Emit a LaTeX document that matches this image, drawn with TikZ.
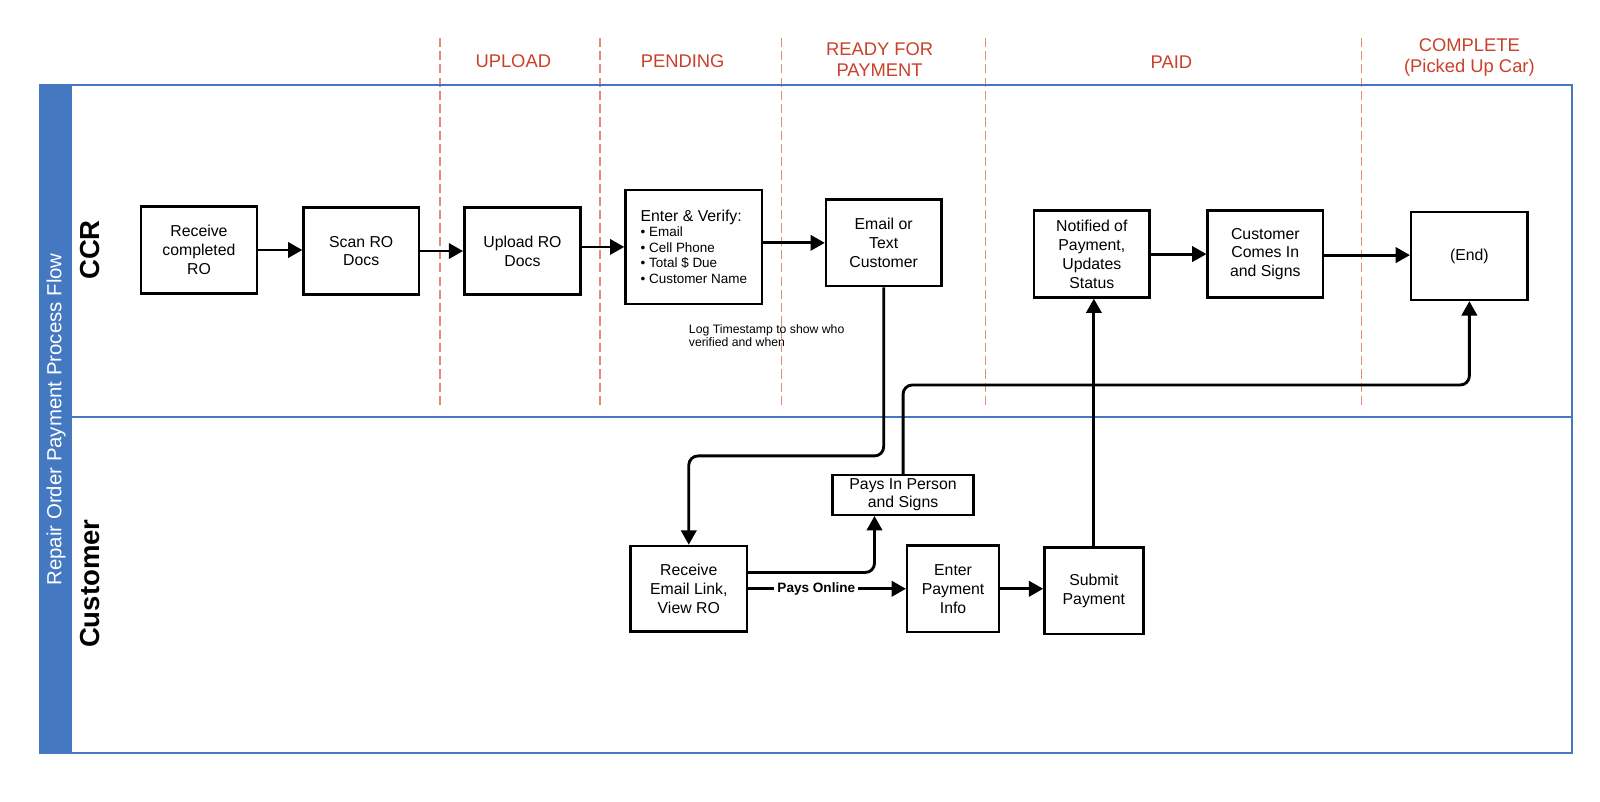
\documentclass[tikz,border=0pt]{standalone}
\usepackage{fontspec}
\setmainfont{Liberation Sans}
\usetikzlibrary{arrows.meta,calc}
\definecolor{laneblue}{HTML}{4479C2}
\definecolor{hdrred}{HTML}{C8412A}
\definecolor{dashred}{HTML}{E58A78}
\begin{document}
\begin{tikzpicture}[x=1pt,y=-1pt,
  box/.style={draw=black,line width=2.4pt,inner sep=0pt,align=center,
    font=\fontsize{15.5}{18.5}\selectfont,fill=white},
  conn/.style={line width=2.8pt,-{Triangle[length=14pt,width=15pt]}},
  plain/.style={line width=2.8pt},
  hdr/.style={text=hdrred,align=center,font=\fontsize{18}{20.5}\selectfont},
  phase/.style={dashred,line width=1.4pt,dash pattern=on 9pt off 4pt},
  lanelbl/.style={rotate=90,font=\fontsize{27}{30}\selectfont\bfseries}
]
\useasboundingbox (0,0) rectangle (1568,785);
\fill[white] (0,0) rectangle (1568,785);

% phase separators
\foreach \xx in {431,588,766,966,1334}
  \draw[phase] (\xx,37) -- (\xx,401);

% headers
\node[hdr] (hupload) at (503,60) {UPLOAD};
\node[hdr] (hpending) at (669,60) {PENDING};
\node[hdr] (hready) at (862,58) {READY FOR\\PAYMENT};
\node[hdr] (hpaid) at (1148,61) {PAID};
\node[hdr] (hcomplete) at (1440,56) {COMPLETE\\(Picked Up Car)};

% pool frame
\fill[laneblue] (39,83) rectangle (71,738);
\draw[laneblue,line width=2pt] (39,83) rectangle (1541,738);
\draw[laneblue,line width=2pt] (71,409) -- (1541,409);
\node[rotate=90,text=white,font=\fontsize{20}{22}\selectfont] (title) at (55,411) {Repair Order Payment Process Flow};
\node[lanelbl] (ccr) at (88,245) {CCR};
\node[lanelbl] (cust) at (88,572) {Customer};

% CCR lane boxes
\node[box,minimum width=114pt,minimum height=85pt] (recv) at (195,245) {Receive\\completed\\RO};
\node[box,minimum width=113pt,minimum height=85pt] (scan) at (354,246) {Scan RO\\Docs};
\node[box,minimum width=114pt,minimum height=85pt] (upload) at (512,246) {Upload RO\\Docs};
\node[box,minimum width=134pt,minimum height=112pt,align=left,font=\fontsize{13.2}{15.3}\selectfont] (verify) at (680,242)
  {{\fontsize{15.5}{18}\selectfont Enter \& Verify:}\\[-1pt]
   • Email\\ • Cell Phone\\ • Total \$ Due\\ • Customer Name};
\node[box,minimum width=113pt,minimum height=85pt] (email) at (866,238) {Email or\\Text\\Customer};
\node[box,minimum width=113pt,minimum height=85pt] (notified) at (1070,249) {Notified of\\Payment,\\Updates\\Status};
\node[box,minimum width=113pt,minimum height=85pt] (comes) at (1240,249) {Customer\\Comes In\\and Signs};
\node[box,minimum width=114pt,minimum height=86pt] (end) at (1440,251) {(End)};
\node[anchor=north west,align=left,inner sep=0pt,font=\fontsize{12}{13}\selectfont] (log) at (675,318)
  {Log Timestamp to show who\\verified and when};

% Customer lane boxes
\node[box,minimum width=138pt,minimum height=39pt,font=\fontsize{15.5}{18}\selectfont] (pip) at (885,485) {Pays In Person\\and Signs};
\node[box,minimum width=114pt,minimum height=84pt] (recvlink) at (675,577) {Receive\\Email Link,\\View RO};
\node[box,minimum width=90pt,minimum height=85pt] (enterpay) at (934,577) {Enter\\Payment\\Info};
\node[box,minimum width=97pt,minimum height=85pt] (submit) at (1072,579) {Submit\\Payment};

% connectors
\draw[conn] (recv.east) -- (scan.west |- recv.east);
\draw[conn] (scan.east) -- (upload.west);
\draw[conn] ([yshift=4pt]upload.east) -- ([yshift=4pt]upload.east -| verify.west);
\draw[conn] ([yshift=4pt]verify.east) -- ([yshift=4pt]verify.east -| email.west);
\draw[conn,rounded corners=9pt] (email.south) |- ([yshift=87pt]recvlink.north) -- (recvlink.north);
\draw[conn,rounded corners=9pt] ([yshift=16pt]recvlink.east) -| ([xshift=-28pt]pip.south);
\node[font=\fontsize{13.3}{15}\selectfont\bfseries,inner sep=3pt] (paysonline) at (800,577) {Pays Online};
\draw[plain] (recvlink.east) -- (paysonline.west);
\draw[conn] (paysonline.east) -- (enterpay.west);
\draw[conn] (enterpay.east) -- (submit.west |- enterpay.east);
\draw[conn] (submit.north) -- (submit.north |- notified.south);
\draw[conn,rounded corners=9pt] (pip.north) -- ++(0,-87) -| (end.south);
\draw[conn] (notified.east) -- (comes.west);
\draw[conn] ([yshift=-1pt]comes.east) -- ([yshift=-1pt]comes.east -| end.west);
\end{tikzpicture}
\end{document}
